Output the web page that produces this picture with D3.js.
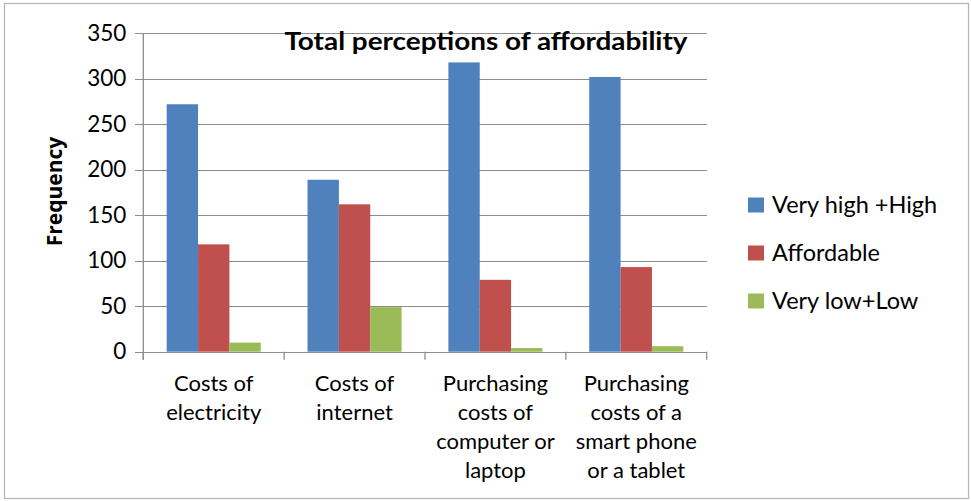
<!DOCTYPE html>
<html>
<head>
<meta charset="utf-8">
<script src="https://cdn.jsdelivr.net/npm/d3@7"></script>
<style>
  html, body { margin: 0; padding: 0; background: #fff; }
  svg { display: block; }
  text { font-family: Lato, "Open Sans", sans-serif; fill: #000; }
</style>
</head>
<body>
<svg id="chart" width="971" height="501"></svg>
<script>
// Categories (multi-line labels) and series values
const categories = [
  ["Costs of", "electricity"],
  ["Costs of", "internet"],
  ["Purchasing", "costs of", "computer or", "laptop"],
  ["Purchasing", "costs of a", "smart phone", "or a tablet"]
];
const seriesNames = ["Very high +High", "Affordable", "Very low+Low"];
const veryHighHigh = [272, 189, 318, 302];
const affordable   = [118, 162, 79, 93];
const veryLowLow   = [10, 49, 4, 6];
const yTicks = [0, 50, 100, 150, 200, 250, 300, 350];
const colors = ["#4F81BD", "#C0504D", "#9BBB59"];
const titleText = "Total perceptions of affordability";
const yTitle = "Frequency";

const series = [veryHighHigh, affordable, veryLowLow];
const svg = d3.select("#chart");

// outer frame
svg.append("rect")
  .attr("x", 4.5).attr("y", 3.5)
  .attr("width", 964).attr("height", 495)
  .attr("fill", "#fff").attr("stroke", "#b4b4b4").attr("stroke-width", 1.2);

const plot = { left: 143.3, right: 706.7, top: 33.3, bottom: 351.7 };

const y = d3.scaleLinear().domain([0, 350]).range([plot.bottom, plot.top]);
const catIdx = categories.map((d, i) => i);
const x0 = d3.scaleBand().domain(catIdx).range([plot.left, plot.right]).paddingInner(0).paddingOuter(0);
const bw = x0.bandwidth();
const x1 = d3.scaleBand().domain(d3.range(series.length))
  .range([bw * 0.166, bw * 0.834]).padding(0);

// horizontal gridlines with left tick marks
const yAxis = d3.axisLeft(y).tickValues(yTicks)
  .tickSize(-(plot.right - plot.left)).tickSizeOuter(0).tickPadding(17)
  .tickFormat(d3.format("d"));
const gy = svg.append("g").attr("transform", `translate(${plot.left},0)`).call(yAxis);
gy.select(".domain").remove();
gy.selectAll(".tick line").attr("stroke", "#8c8c8c").attr("stroke-width", 1.3)
  .attr("x1", -8).attr("shape-rendering", "crispEdges");
gy.selectAll(".tick text")
  .attr("font-size", 22.5).attr("fill", "#000")
  .style("font-family", "Lato, sans-serif");

// vertical axis line
svg.append("line")
  .attr("x1", plot.left).attr("x2", plot.left)
  .attr("y1", plot.top).attr("y2", plot.bottom + 8)
  .attr("stroke", "#8c8c8c").attr("stroke-width", 1.3);

// category boundary ticks
const bounds = catIdx.map(i => x0(i)).concat([plot.right]);
svg.append("g").selectAll("line").data(bounds).join("line")
  .attr("x1", d => d).attr("x2", d => d)
  .attr("y1", plot.bottom).attr("y2", plot.bottom + 8)
  .attr("stroke", "#8c8c8c").attr("stroke-width", 1.3);

// bars
const groups = svg.append("g").selectAll("g").data(catIdx).join("g")
  .attr("transform", i => `translate(${x0(i)},0)`);
groups.selectAll("rect")
  .data(i => series.map((s, k) => ({ k, v: s[i] })))
  .join("rect")
  .attr("x", d => x1(d.k))
  .attr("width", x1.bandwidth())
  .attr("y", d => y(d.v))
  .attr("height", d => y(0) - y(d.v))
  .attr("fill", d => colors[d.k]);

// category labels
const lineH = 29;
const catLabels = svg.append("g").selectAll("text").data(catIdx).join("text")
  .attr("text-anchor", "middle")
  .attr("font-size", 22)
  .attr("x", i => x0(i) + bw / 2)
  .attr("y", 391);
catLabels.selectAll("tspan").data(i => categories[i]).join("tspan")
  .attr("x", function () { return d3.select(this.parentNode).attr("x"); })
  .attr("dy", (d, j) => j === 0 ? 0 : lineH)
  .text(d => d);

// title
svg.append("text")
  .attr("x", 486).attr("y", 50)
  .attr("text-anchor", "middle")
  .attr("font-size", 24).attr("font-weight", "bold")
  .attr("textLength", 403).attr("lengthAdjust", "spacingAndGlyphs")
  .text(titleText);

// y-axis title
svg.append("text")
  .attr("transform", "translate(62,191.5) rotate(-90)")
  .attr("text-anchor", "middle")
  .attr("font-size", 21).attr("font-weight", "bold")
  .style("font-family", "'Open Sans', sans-serif")
  .text(yTitle);

// legend
const legend = svg.append("g").selectAll("g").data(seriesNames).join("g")
  .attr("transform", (d, i) => `translate(748,${205 + i * 48})`);
legend.append("rect")
  .attr("x", 0).attr("y", -7.5).attr("width", 16).attr("height", 15)
  .attr("fill", (d, i) => colors[i]);
legend.append("text")
  .attr("x", 24).attr("y", 8)
  .attr("font-size", 23.5)
  .text(d => d);
</script>
</body>
</html>
